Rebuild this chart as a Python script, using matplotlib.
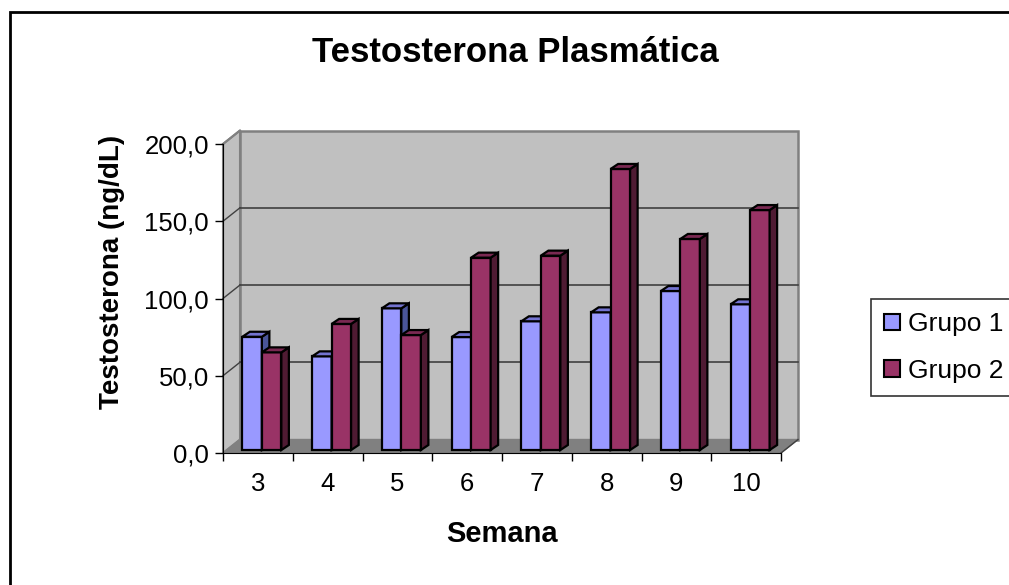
import matplotlib.pyplot as plt
from matplotlib.patches import Polygon, Rectangle, Patch
from matplotlib.ticker import FuncFormatter, FixedLocator

plt.rcParams['font.family'] = ['Liberation Sans', 'DejaVu Sans']

semanas = ['3', '4', '5', '6', '7', '8', '9', '10']
grupo1 = [73.3, 60.6, 91.7, 73.1, 83.3, 89.1, 102.9, 94.3]
grupo2 = [63.2, 81.6, 74.4, 124.5, 125.8, 181.9, 136.6, 155.3]

# colours (front, top, side)
c1 = ('#9999FF', '#7373D0', '#4A5599')
c2 = ('#993366', '#7A2952', '#4F1B33')

W, H = 1009, 585
fig = plt.figure(figsize=(W / 100, H / 100), dpi=100)
# front plane of the 3d box
ax = fig.add_axes([223 / W, (H - 453) / H, 558 / W, 309 / H])
ax.set_xlim(-0.5, len(semanas) - 0.5)
ax.set_ylim(0, 200)
ax.patch.set_visible(False)

pxx = 558 / len(semanas)   # px per category
pxy = 309 / 200            # px per unit
DX, DY = 17 / pxx, 13.5 / pxy      # wall depth
bx, by = 4 / pxx, 3 / pxy          # bar plane offset
w = 19.5 / pxx                     # bar width
ddx, ddy = 7.5 / pxx, 5 / pxy      # bar depth

x0, x1 = -0.5, len(semanas) - 0.5
wall = '#C0C0C0'
# back wall, side wall, floor
ax.add_patch(Polygon([(x0 + DX, DY), (x1 + DX, DY), (x1 + DX, 200 + DY), (x0 + DX, 200 + DY)],
                     closed=True, fc=wall, ec='#808080', lw=1.8, clip_on=False, zorder=0))
ax.add_patch(Polygon([(x0, 0), (x0 + DX, DY), (x0 + DX, 200 + DY), (x0, 200)],
                     closed=True, fc=wall, ec='#808080', lw=1.5, clip_on=False, zorder=0))
ax.add_patch(Polygon([(x0, 0), (x1, 0), (x1 + DX, DY), (x0 + DX, DY)],
                     closed=True, fc='#808080', ec='#808080', lw=1, clip_on=False, zorder=1))
for v in [50, 100, 150]:
    ax.plot([x0 + DX, x1 + DX], [v + DY, v + DY], color='#404040', lw=1.2, zorder=1, clip_on=False)
    ax.plot([x0, x0 + DX], [v, v + DY], color='#404040', lw=1.0, zorder=1, clip_on=False)
ax.plot([x0, x0 + DX], [200, 200 + DY], color='#808080', lw=1.5, zorder=1, clip_on=False)
ax.plot([x1, x1 + DX], [0, DY], color='#404040', lw=1.0, zorder=1, clip_on=False)


def bar3d(xs, vals, cols, z):
    ax.bar(xs, vals, width=w, bottom=by, color=cols[0], edgecolor='black', lw=1.6, zorder=z)
    for x, v in zip(xs, vals):
        l, r, t = x - w / 2, x + w / 2, v + by
        ax.add_patch(Polygon([(r, by), (r + ddx, by + ddy), (r + ddx, t + ddy), (r, t)],
                             closed=True, fc=cols[2], ec='black', lw=1.6, zorder=z, clip_on=False))
        ax.add_patch(Polygon([(l, t), (r, t), (r + ddx, t + ddy), (l + ddx, t + ddy)],
                             closed=True, fc=cols[1], ec='black', lw=1.6, zorder=z, clip_on=False))


pos = list(range(len(semanas)))
bar3d([p + bx - w / 2 for p in pos], grupo1, c1, 3)
bar3d([p + bx + w / 2 for p in pos], grupo2, c2, 4)

for s in ['top', 'right']:
    ax.spines[s].set_visible(False)
ax.spines['left'].set_color('black')
ax.spines['bottom'].set_color('black')
ax.spines['left'].set_zorder(2)
ax.spines['bottom'].set_zorder(2)

ax.set_yticks([0, 50, 100, 150, 200])
ax.yaxis.set_major_formatter(FuncFormatter(lambda v, p: f'{v:.1f}'.replace('.', ',')))
ax.tick_params(axis='y', length=6, width=1, labelsize=18.5, pad=4)
ax.set_xticks(pos)
ax.set_xticklabels(semanas)
ax.xaxis.set_minor_locator(FixedLocator([p - 0.5 for p in pos] + [x1]))
ax.tick_params(axis='x', which='major', length=0, labelsize=18.5, pad=14)
ax.tick_params(axis='x', which='minor', length=6, width=1)

fig.text(515 / W, 1 - 53 / H, 'Testosterona Plasmática', ha='center', va='center',
         fontsize=25, fontweight='bold')
fig.text(112 / W, 1 - 272 / H, 'Testosterona (ng/dL)', rotation=90, ha='center', va='center',
         fontsize=20, fontweight='bold')
fig.text(502 / W, 1 - 534 / H, 'Semana', ha='center', va='center',
         fontsize=21, fontweight='bold')

handles = [Patch(fc=c1[0], ec='black', lw=1.5), Patch(fc=c2[0], ec='black', lw=1.5)]
leg = fig.legend(handles, ['Grupo 1', 'Grupo 2'], loc='upper left',
                 bbox_to_anchor=(871 / W, 1 - 299 / H), fontsize=19, frameon=True,
                 fancybox=False, edgecolor='black', handlelength=0.6, handleheight=0.6,
                 handletextpad=0.3, labelspacing=0.85, borderpad=0.5, borderaxespad=0)
leg.get_frame().set_linewidth(1.2)

fig.patches.append(Rectangle((9.5 / W, -0.5), 2, 1.5 - 12 / H, transform=fig.transFigure,
                             fill=False, ec='black', lw=2))

fig.savefig('out.png', dpi=100)
